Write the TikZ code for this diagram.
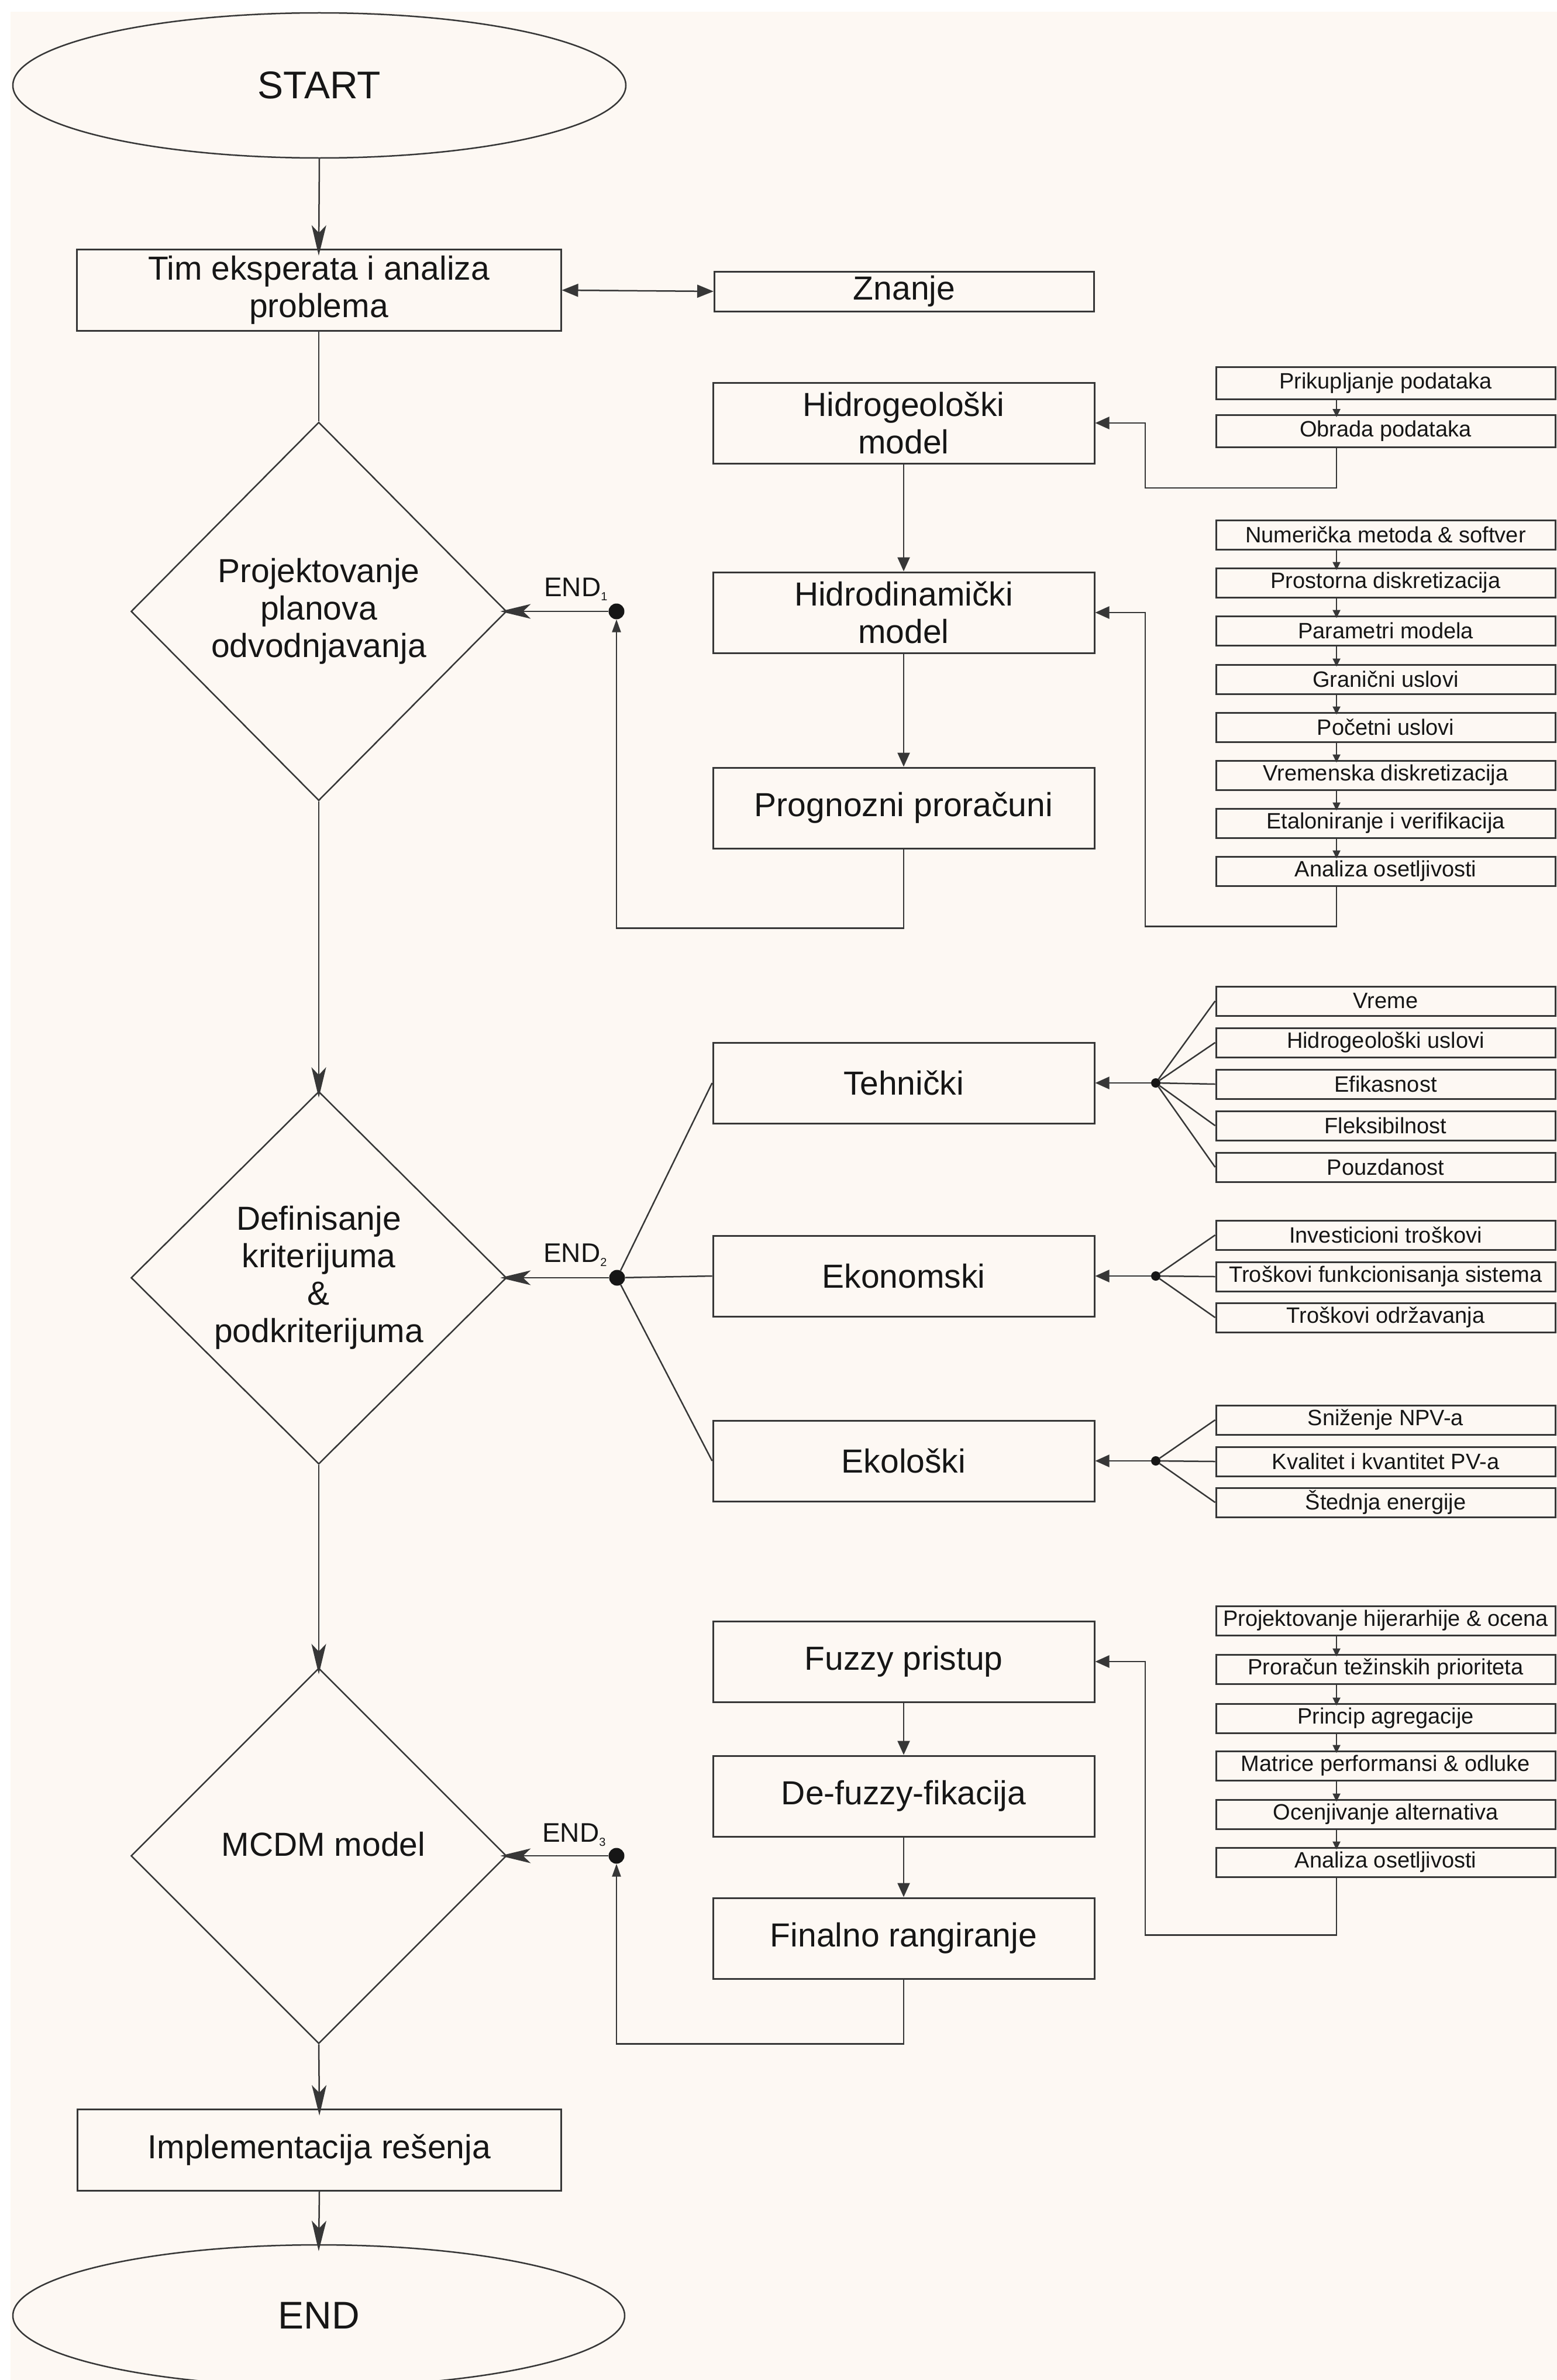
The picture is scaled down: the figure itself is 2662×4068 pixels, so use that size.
\documentclass[tikz,border=0pt]{standalone}
\usepackage{fontspec}
\setmainfont{Liberation Sans}
\usetikzlibrary{shapes.geometric,arrows.meta}
\definecolor{bgc}{RGB}{253,248,243}
\definecolor{lnc}{RGB}{55,55,55}
\definecolor{txc}{RGB}{22,22,22}
\begin{document}
\begin{tikzpicture}[x=1pt,y=-1pt,
  bigf/.style={font=\fontsize{57}{64}\selectfont},
  smf/.style={font=\fontsize{38}{44}\selectfont},
  termnode/.style={ellipse, draw=lnc, line width=2.5pt, inner sep=0pt, text=txc,
     minimum width=1048pt, minimum height=248pt, font=\fontsize{66}{72}\selectfont},
  mainbox/.style={rectangle, draw=lnc, line width=3pt, inner sep=0pt, text=txc,
     minimum width=828pt, minimum height=139pt, align=center, bigf},
  sidebox/.style={rectangle, draw=lnc, line width=3pt, inner sep=0pt, text=txc,
     minimum width=652pt, minimum height=138pt, align=center, bigf},
  subbox/.style={rectangle, draw=lnc, line width=3pt, inner sep=0pt, text=txc,
     minimum width=580pt, minimum height=50pt, smf},
  decision/.style={diamond, draw=lnc, line width=2.5pt, inner sep=0pt, text=txc,
     minimum width=642pt, align=center, bigf},
  bigdot/.style={circle, fill=txc, inner sep=0pt, minimum size=27pt},
  smdot/.style={circle, fill=txc, inner sep=0pt, minimum size=16pt},
  endlab/.style={text=txc, inner sep=0pt, font=\fontsize{46}{50}\selectfont},
  conn/.style={draw=lnc, line width=2.5pt},
  bigarr/.style={-{Stealth[length=52pt,width=25pt,inset=13pt]}, shorten >=-12pt},
  medarr/.style={-{Triangle[length=24pt,width=21pt]}},
  dblarr/.style={{Triangle[length=28pt,width=22pt]}-{Triangle[length=28pt,width=22pt]}},
  uparr/.style={-{Triangle[length=22pt,width=15pt]}},
  tinyarr/.style={-{Triangle[length=14pt,width=13pt]}, shorten >=-5pt}
]
\fill[white] (0,0) rectangle (2662,4068);
\fill[bgc] (18,20) rectangle (2662,4068);
\useasboundingbox (0,0) rectangle (2662,4068);

\coordinate (colA) at (2285,0);
\coordinate (loopx) at (1958,0);

% main column
\node[termnode] (start) at (546,146) {START};
\node[mainbox] (tim) at (545,496) {Tim eksperata i analiza\\problema};
\node[sidebox, minimum height=68pt, minimum width=649pt] (zn) at (1546,498) {Znanje};
\node[decision, minimum height=647pt] (d1) at (545,1045) {Projektovanje\\planova\\odvodnjavanja};
\node[decision, minimum height=637pt] (d2) at (545,2184) {Definisanje\\kriterijuma\\\&\\podkriterijuma};
\node[decision, minimum height=642pt] (d3) at (545,3172) {};
\node[bigf, text=txc, inner sep=0pt] (d3t) at (553,3152) {MCDM model};
\node[mainbox, minimum width=827pt] (impl) at (546,3675) {Implementacija rešenja};
\node[termnode, minimum width=1046pt, minimum height=242pt] (endE) at (545,3958) {END};

% END junctions
\node[bigdot] (e1) at (1054,1045) {};
\node[bigdot] (e2) at (1055,2184) {};
\node[bigdot] (e3) at (1054,3172) {};
\node[endlab, anchor=base west] (l1) at (930,1019) {END\raisebox{-7pt}{\fontsize{20}{20}\selectfont 1}};
\node[endlab, anchor=base west] (l2) at (929,2157) {END\raisebox{-7pt}{\fontsize{20}{20}\selectfont 2}};
\node[endlab, anchor=base west] (l3) at (927,3148) {END\raisebox{-7pt}{\fontsize{20}{20}\selectfont 3}};

% section 1 right
\node[sidebox] (hg) at (1545,723) {Hidrogeološki\\model};
\node[sidebox] (hd) at (1545,1047) {Hidrodinamički\\model};
\node[sidebox] (pp) at (1545,1381) {Prognozni proračuni};

\node[subbox, minimum height=55pt] (pk) at (2369,655) {Prikupljanje podataka};
\node[subbox, minimum height=55pt] (ob) at (2369,737) {Obrada podataka};

\node[subbox] (s1) at (2369,914) {Numerička metoda \& softver};
\node[subbox] (s2) at (2369,996) {Prostorna diskretizacija};
\node[subbox] (s3) at (2369,1078) {Parametri modela};
\node[subbox] (s4) at (2369,1161) {Granični uslovi};
\node[subbox] (s5) at (2369,1243) {Početni uslovi};
\node[subbox] (s6) at (2369,1325) {Vremenska diskretizacija};
\node[subbox] (s7) at (2369,1407) {Etaloniranje i verifikacija};
\node[subbox] (s8) at (2369,1489) {Analiza osetljivosti};

% section 2 right
\node[sidebox] (tk) at (1545,1851) {Tehnički};
\node[sidebox] (ek) at (1545,2181) {Ekonomski};
\node[sidebox] (el) at (1545,2497) {Ekološki};

\node[smdot] (t1) at (1976,1851) {};
\node[smdot] (t2) at (1976,2181) {};
\node[smdot] (t3) at (1976,2497) {};

\node[subbox] (a1) at (2369,1711) {Vreme};
\node[subbox] (a2) at (2369,1782) {Hidrogeološki uslovi};
\node[subbox] (a3) at (2369,1853) {Efikasnost};
\node[subbox] (a4) at (2369,1924) {Fleksibilnost};
\node[subbox] (a5) at (2369,1995) {Pouzdanost};

\node[subbox] (b1) at (2369,2111) {Investicioni troškovi};
\node[subbox] (b2) at (2369,2182) {Troškovi funkcionisanja sistema};
\node[subbox] (b3) at (2369,2252) {Troškovi održavanja};

\node[subbox] (c1) at (2369,2427) {Sniženje NPV-a};
\node[subbox] (c2) at (2369,2498) {Kvalitet i kvantitet PV-a};
\node[subbox] (c3) at (2369,2568) {Štednja energije};

% section 3 right
\node[sidebox] (fz) at (1545,2840) {Fuzzy pristup};
\node[sidebox] (df) at (1545,3070) {De-fuzzy-fikacija};
\node[sidebox] (fr) at (1545,3313) {Finalno rangiranje};

\node[subbox] (f1) at (2369,2770) {Projektovanje hijerarhije \& ocena};
\node[subbox] (f2) at (2369,2853) {Proračun težinskih prioriteta};
\node[subbox] (f3) at (2369,2937) {Princip agregacije};
\node[subbox] (f4) at (2369,3018) {Matrice performansi \& odluke};
\node[subbox] (f5) at (2369,3101) {Ocenjivanje alternativa};
\node[subbox] (f6) at (2369,3183) {Analiza osetljivosti};

% ---- connectors: main column
\draw[conn, bigarr] (start.south) -- (tim.north);
\draw[conn, dblarr] (tim.east) -- (zn.west);
\draw[conn] (tim.south) -- (d1.north);
\draw[conn, bigarr] (d1.south) -- (d2.north);
\draw[conn, bigarr] (d2.south) -- (d3.north);
\draw[conn, bigarr] (d3.south) -- (impl.north);
\draw[conn, bigarr] (impl.south) -- (endE.north);

\draw[conn, bigarr] (e1) -- (d1.east);
\draw[conn, bigarr] (e2) -- (d2.east);
\draw[conn, bigarr] (e3) -- (d3.east);

% section 1
\draw[conn, medarr] (hg.south) -- (hd.north);
\draw[conn, medarr] (hd.south) -- (pp.north);
\draw[conn, uparr] (pp.south) -- ++(0,135) -| (e1.south);

\draw[conn, tinyarr] (pk.south -| colA) -- (ob.north -| colA);
\draw[conn, medarr] (ob.south -| colA) -- ++(0,68) -| (loopx |- hg.east) -- (hg.east);

\foreach \p/\q in {s1/s2,s2/s3,s3/s4,s4/s5,s5/s6,s6/s7,s7/s8}
  \draw[conn, tinyarr] (\p.south -| colA) -- (\q.north -| colA);
\draw[conn, medarr] (s8.south -| colA) -- ++(0,68) -| (loopx |- hd.east) -- (hd.east);

% section 2
\draw[conn] (e2) -- (tk.west);
\draw[conn] (e2) -- (ek.west);
\draw[conn] (e2) -- (el.west);

\draw[conn, medarr] (t1) -- (tk.east);
\draw[conn, medarr] (t2) -- (ek.east);
\draw[conn, medarr] (t3) -- (el.east);
\foreach \b in {a1,a2,a3,a4,a5} \draw[conn] (t1) -- (\b.west);
\foreach \b in {b1,b2,b3} \draw[conn] (t2) -- (\b.west);
\foreach \b in {c1,c2,c3} \draw[conn] (t3) -- (\b.west);

% section 3
\draw[conn, medarr] (fz.south) -- (df.north);
\draw[conn, medarr] (df.south) -- (fr.north);
\draw[conn, uparr] (fr.south) -- ++(0,110) -| (e3.south);
\foreach \p/\q in {f1/f2,f2/f3,f3/f4,f4/f5,f5/f6}
  \draw[conn, tinyarr] (\p.south -| colA) -- (\q.north -| colA);
\draw[conn, medarr] (f6.south -| colA) -- ++(0,98) -| (loopx |- fz.east) -- (fz.east);
\end{tikzpicture}
\end{document}
